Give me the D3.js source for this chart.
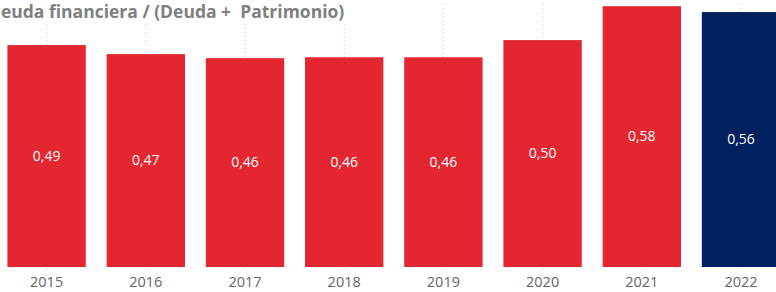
<!DOCTYPE html>
<html>
<head>
<meta charset="utf-8">
<script src="https://cdn.jsdelivr.net/npm/d3@7"></script>
<style>
  body { margin: 0; background: #fff; }
  svg { display: block; }
</style>
</head>
<body>
<svg id="chart"></svg>
<script>
// datos
const years = ["2015", "2016", "2017", "2018", "2019", "2020", "2021", "2022"];
const ratio = [0.491, 0.471, 0.462, 0.464, 0.464, 0.502, 0.577, 0.564];
const titleText = "Deuda financiera / (Deuda +  Patrimonio)";

const width = 776, height = 292;
const baseY = 267;

const svg = d3.select("#chart")
  .attr("width", width)
  .attr("height", height);

let x = d3.scaleBand()
  .domain(years)
  .range([-3, 790.6])
  .paddingInner(0.21)
  .paddingOuter(0.105);

let y = d3.scaleLinear()
  .domain([0, 0.6])
  .range([baseY, baseY - 271.2]);

// lineas punteadas verticales (detras de las barras)
svg.append("g")
  .selectAll("line")
  .data(years)
  .join("line")
  .attr("x1", d => x(d) + x.bandwidth() / 2)
  .attr("x2", d => x(d) + x.bandwidth() / 2)
  .attr("y1", 4)
  .attr("y2", baseY + 3)
  .attr("stroke", "#c8c8c8")
  .attr("stroke-width", 1)
  .attr("stroke-dasharray", "1,3");

// barras
svg.append("g")
  .selectAll("rect")
  .data(years)
  .join("rect")
  .attr("x", d => x(d))
  .attr("width", x.bandwidth())
  .attr("y", (d, i) => y(ratio[i]))
  .attr("height", (d, i) => baseY - y(ratio[i]))
  .attr("fill", (d, i) => i == years.length - 1 ? "#002060" : "#e3262f");

// etiquetas de valor
svg.append("g")
  .selectAll("text")
  .data(years)
  .join("text")
  .attr("x", d => x(d) + x.bandwidth() / 2)
  .attr("y", (d, i) => (y(ratio[i]) + baseY) / 2)
  .attr("dy", "0.35em")
  .attr("text-anchor", "middle")
  .attr("fill", "#fff")
  .style("font-family", "'Open Sans', sans-serif")
  .style("font-size", "14px")
  .text((d, i) => d3.format(".2f")(ratio[i]).replace(".", ","));

// eje x
let xAxis = svg.append("g")
  .attr("transform", `translate(0,${baseY})`)
  .call(d3.axisBottom(x).tickSize(0).tickPadding(10));
xAxis.select(".domain").remove();
xAxis.selectAll("text")
  .attr("fill", "#666")
  .style("font-family", "'Open Sans', sans-serif")
  .style("font-size", "14.5px");

// titulo
svg.append("rect")
  .attr("x", 0).attr("y", 0)
  .attr("width", 345).attr("height", 21)
  .attr("fill", "#fff");
svg.append("text")
  .attr("x", -12)
  .attr("y", 18)
  .attr("fill", "#7f7f7f")
  .style("font-family", "'Open Sans', sans-serif")
  .style("font-weight", "bold")
  .style("font-size", "17.5px")
  .style("white-space", "pre")
  .text(titleText);
</script>
</body>
</html>
